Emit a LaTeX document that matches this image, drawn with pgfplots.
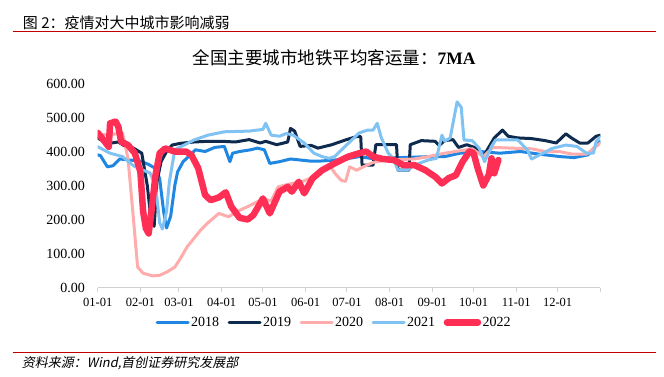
\documentclass[border=0pt]{standalone}
\usepackage{pgfplots}
\pgfplotsset{compat=1.18}
\usepackage{fontspec}
\setmainfont{Liberation Serif}
\newfontfamily\cjk{Noto Sans CJK SC}
\newfontfamily\cjkit{Noto Sans CJK SC}[FakeSlant=0.2]
\definecolor{c18}{RGB}{31,134,226}
\definecolor{c19}{RGB}{14,42,79}
\definecolor{c20}{RGB}{255,172,172}
\definecolor{c21}{RGB}{128,195,243}
\definecolor{c22}{RGB}{255,46,85}
\definecolor{redline}{RGB}{192,0,0}
\begin{document}
\begin{tikzpicture}
\useasboundingbox (0pt,0pt) rectangle (664pt,376pt);
\node[anchor=west, inner sep=0pt, font=\cjk\fontsize{15}{15}\selectfont] at (22.7pt,353pt) {图 2：疫情对大中城市影响减弱};
\draw[redline, line width=1.3pt] (12.7pt,344.3pt) -- (656pt,344.3pt);
\node[anchor=center, inner sep=0pt, font=\fontsize{17.5}{18}\selectfont] at (334pt,318pt) {{\cjk 全国主要城市地铁平均客运量：}\textbf{7MA}};
\draw[redline, line width=1.3pt] (12.7pt,23.3pt) -- (656pt,23.3pt);
\node[anchor=west, inner sep=0pt, font=\cjkit\fontsize{13}{13}\selectfont] at (21.7pt,13pt) {资料来源：Wind,首创证券研究发展部};
\begin{axis}[
  at={(97.7pt,88.5pt)}, anchor=south west, scale only axis,
  width=502.6pt, height=204pt,
  xmin=0, xmax=365, ymin=0, ymax=600,
  axis x line*=bottom, axis y line*=left,
  x axis line style={-, draw=black!18, line width=1pt},
  y axis line style={draw=none},
  xtick={0,31,59,90,120,151,181,212,243,273,304,334,365},
  xticklabels={01-01,02-01,03-01,04-01,05-01,06-01,07-01,08-01,09-01,10-01,11-01,12-01,{}},
  ytick={0,100,200,300,400,500,600},
  yticklabels={0.00,100.00,200.00,300.00,400.00,500.00,600.00},
  x tick style={draw=black!18, line width=1pt},
  xtick align=outside, major tick length=4pt,
  y tick style={draw=none},
  xticklabel style={font=\fontsize{12.5}{13}\selectfont, inner sep=0pt, anchor=north, yshift=-6pt},
  yticklabel style={font=\fontsize{14}{14}\selectfont, inner sep=0pt, anchor=east, xshift=-12.7pt},
  legend columns=5,
  legend style={at={(0.470,-0.171)}, anchor=center, draw=none, fill=none, inner sep=0pt,
    font=\fontsize{14}{14}\selectfont,
    nodes={inner sep=1.5pt},
    /tikz/every even column/.append style={column sep=7pt}},
  legend image code/.code={\draw[#1, line cap=round] (0pt,0pt) -- (31pt,0pt);},
  every axis plot/.append style={line join=round, line cap=round},
]
\addplot[c18, line width=3pt] coordinates {
(0,390)(2,388)(7,355)(11,358)(16,378)(23,375)(31,372)(37,362)(42,350)(45,320)(48,220)(50,175)(53,210)(56,300)(58,340)(62,370)(66,385)(71,405)(78,400)(85,412)(92,415)(96,370)(98,395)(103,400)(111,405)(116,410)(121,405)(125,365)(132,370)(140,378)(147,375)(154,372)(162,372)(172,375)(180,378)(190,385)(198,380)(220,382)(241,385)(252,385)(263,395)(278,400)(292,395)(307,400)(321,392)(336,385)(346,382)(356,390)(365,430)
};
\addlegendentry{2018}
\addplot[c19, line width=3pt] coordinates {
(0,440)(4,430)(10,425)(15,428)(20,415)(26,410)(32,395)(36,300)(39,190)(41,180)(43,310)(46,370)(50,400)(54,419)(60,424)(70,428)(80,430)(90,430)(100,428)(110,435)(118,425)(122,430)(130,420)(138,428)(140,468)(143,460)(147,415)(155,418)(160,410)(170,420)(180,434)(188,444)(191,444)(192,360)(200,360)(202,420)(210,420)(217,420)(218,345)(226,345)(227,420)(235,432)(245,430)(248,418)(252,432)(258,435)(262,412)(268,420)(275,410)(280,385)(288,440)(294,463)(298,445)(305,440)(315,438)(325,432)(333,425)(340,452)(344,440)(350,425)(356,425)(362,445)(365,448)
};
\addlegendentry{2019}
\addplot[c20, line width=3pt] coordinates {
(0,450)(10,450)(18,455)(22,380)(26,200)(29,60)(33,42)(40,34)(45,36)(50,45)(56,60)(60,85)(65,120)(75,170)(80,190)(88,218)(95,208)(102,225)(110,240)(120,260)(126,255)(131,296)(140,305)(148,311)(155,322)(162,340)(169,355)(173,332)(177,315)(180,312)(183,355)(188,345)(193,355)(200,368)(210,375)(230,378)(240,385)(252,395)(272,408)(280,385)(287,412)(300,410)(315,408)(325,400)(335,400)(345,392)(355,392)(365,425)
};
\addlegendentry{2020}
\addplot[c21, line width=3pt] coordinates {
(0,414)(9,395)(18,385)(26,358)(33,345)(38,337)(42,300)(45,190)(47,172)(50,223)(52,310)(56,405)(70,434)(80,448)(92,458)(110,460)(120,465)(122,483)(126,448)(132,445)(137,453)(142,448)(150,425)(157,395)(163,385)(168,380)(172,385)(182,424)(190,455)(196,463)(200,463)(203,483)(206,440)(211,395)(215,378)(218,345)(225,345)(230,360)(240,375)(246,380)(250,448)(252,430)(256,440)(261,546)(264,530)(266,434)(272,432)(277,410)(281,370)(286,415)(289,434)(305,434)(312,405)(315,378)(320,388)(330,409)(340,419)(348,415)(355,395)(360,395)(362,430)(365,443)
};
\addlegendentry{2021}
\addplot[c22, line width=6.5pt] coordinates {
(0,455)(3,440)(8,414)(9,483)(13,488)(15,473)(17,429)(22,419)(27,395)(31,340)(33,223)(35,174)(37,159)(39,223)(42,331)(45,395)(49,409)(56,400)(64,400)(68,390)(73,351)(78,272)(82,257)(88,265)(93,280)(97,238)(103,205)(109,200)(113,213)(120,262)(125,218)(132,282)(138,296)(141,282)(146,311)(150,277)(156,321)(163,345)(172,365)(182,385)(190,395)(195,400)(200,385)(207,378)(215,375)(222,360)(230,360)(238,345)(245,326)(250,306)(255,322)(260,330)(265,370)(270,400)(273,395)(276,350)(280,300)(284,331)(286,380)(288,336)(291,375)
};
\addlegendentry{2022}
\end{axis}
\end{tikzpicture}
\end{document}
